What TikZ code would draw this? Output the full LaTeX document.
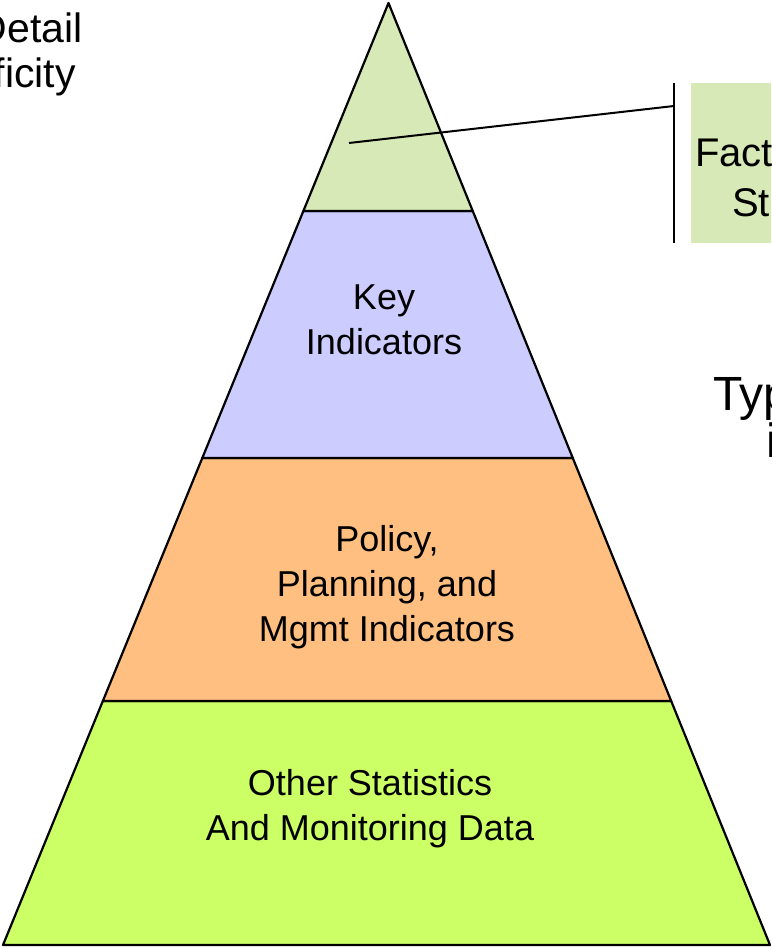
\documentclass[tikz,border=0pt]{standalone}
\usepackage{fontspec}
\setmainfont{Liberation Sans}
\usetikzlibrary{calc}
\definecolor{topgreen}{RGB}{215,233,182}
\definecolor{keyblue}{RGB}{204,204,255}
\definecolor{polorange}{RGB}{255,191,128}
\definecolor{othgreen}{RGB}{204,255,102}
\tikzset{
  layer/.style={draw=black, line width=2.2pt, line join=round},
  lbl/.style={align=center, inner sep=0pt, font=\fontsize{36}{45}\selectfont},
  side/.style={inner sep=0pt},
  callout/.style={draw=black, line width=2pt}
}
\begin{document}
\begin{tikzpicture}[x=1pt,y=-1pt]
\useasboundingbox (0,0) rectangle (771,949);
\clip (0,0) rectangle (771,949);
\coordinate (apex) at (388.5,3);
\coordinate (bl) at (3,945);
\coordinate (br) at (770,945);
\coordinate (l1) at ($(apex)!0.2208!(bl)$);
\coordinate (r1) at ($(apex)!0.2208!(br)$);
\coordinate (l2) at ($(apex)!0.4830!(bl)$);
\coordinate (r2) at ($(apex)!0.4830!(br)$);
\coordinate (l3) at ($(apex)!0.7410!(bl)$);
\coordinate (r3) at ($(apex)!0.7410!(br)$);
% layers
\filldraw[layer, fill=othgreen] (l3) -- (r3) -- (br) -- (bl) -- cycle;
\filldraw[layer, fill=polorange] (l2) -- (r2) -- (r3) -- (l3) -- cycle;
\filldraw[layer, fill=keyblue] (l1) -- (r1) -- (r2) -- (l2) -- cycle;
\filldraw[layer, fill=topgreen] (apex) -- (r1) -- (l1) -- cycle;
% labels
\node[lbl] (key) at (384,320) {Key\\Indicators};
\node[lbl] (pol) at (387,587) {Policy,\\Planning, and\\Mgmt Indicators};
\node[lbl] (oth) at (370,809) {Other Statistics\\And Monitoring Data};
% callout box
\fill[topgreen] (691,83) rectangle (780,243);
\node[side, anchor=base west, font=\fontsize{40}{52}\selectfont] (fact) at (695,167) {Fact};
\node[side, anchor=base west, font=\fontsize{40}{52}\selectfont] (st) at (732,217) {St};
\coordinate (bt) at (674,83);
\coordinate (bb) at (674,243);
\coordinate (cs) at (349,143);
\coordinate (ce) at (674,106);
\draw[callout] (bt) -- (bb);
\draw[callout] (cs) -- (ce);
% side texts
\node[side, anchor=base east, font=\fontsize{41}{50}\selectfont] (det) at (83,43) {Detail};
\node[side, anchor=base east, font=\fontsize{41}{50}\selectfont] (spec) at (76,88) {ficity};
\node[side, anchor=base west, font=\fontsize{48}{55}\selectfont] (typ) at (713,410) {Typ};
\node[side, anchor=base west, font=\fontsize{48}{55}\selectfont] (tin) at (766,457) {i};
\end{tikzpicture}
\end{document}
